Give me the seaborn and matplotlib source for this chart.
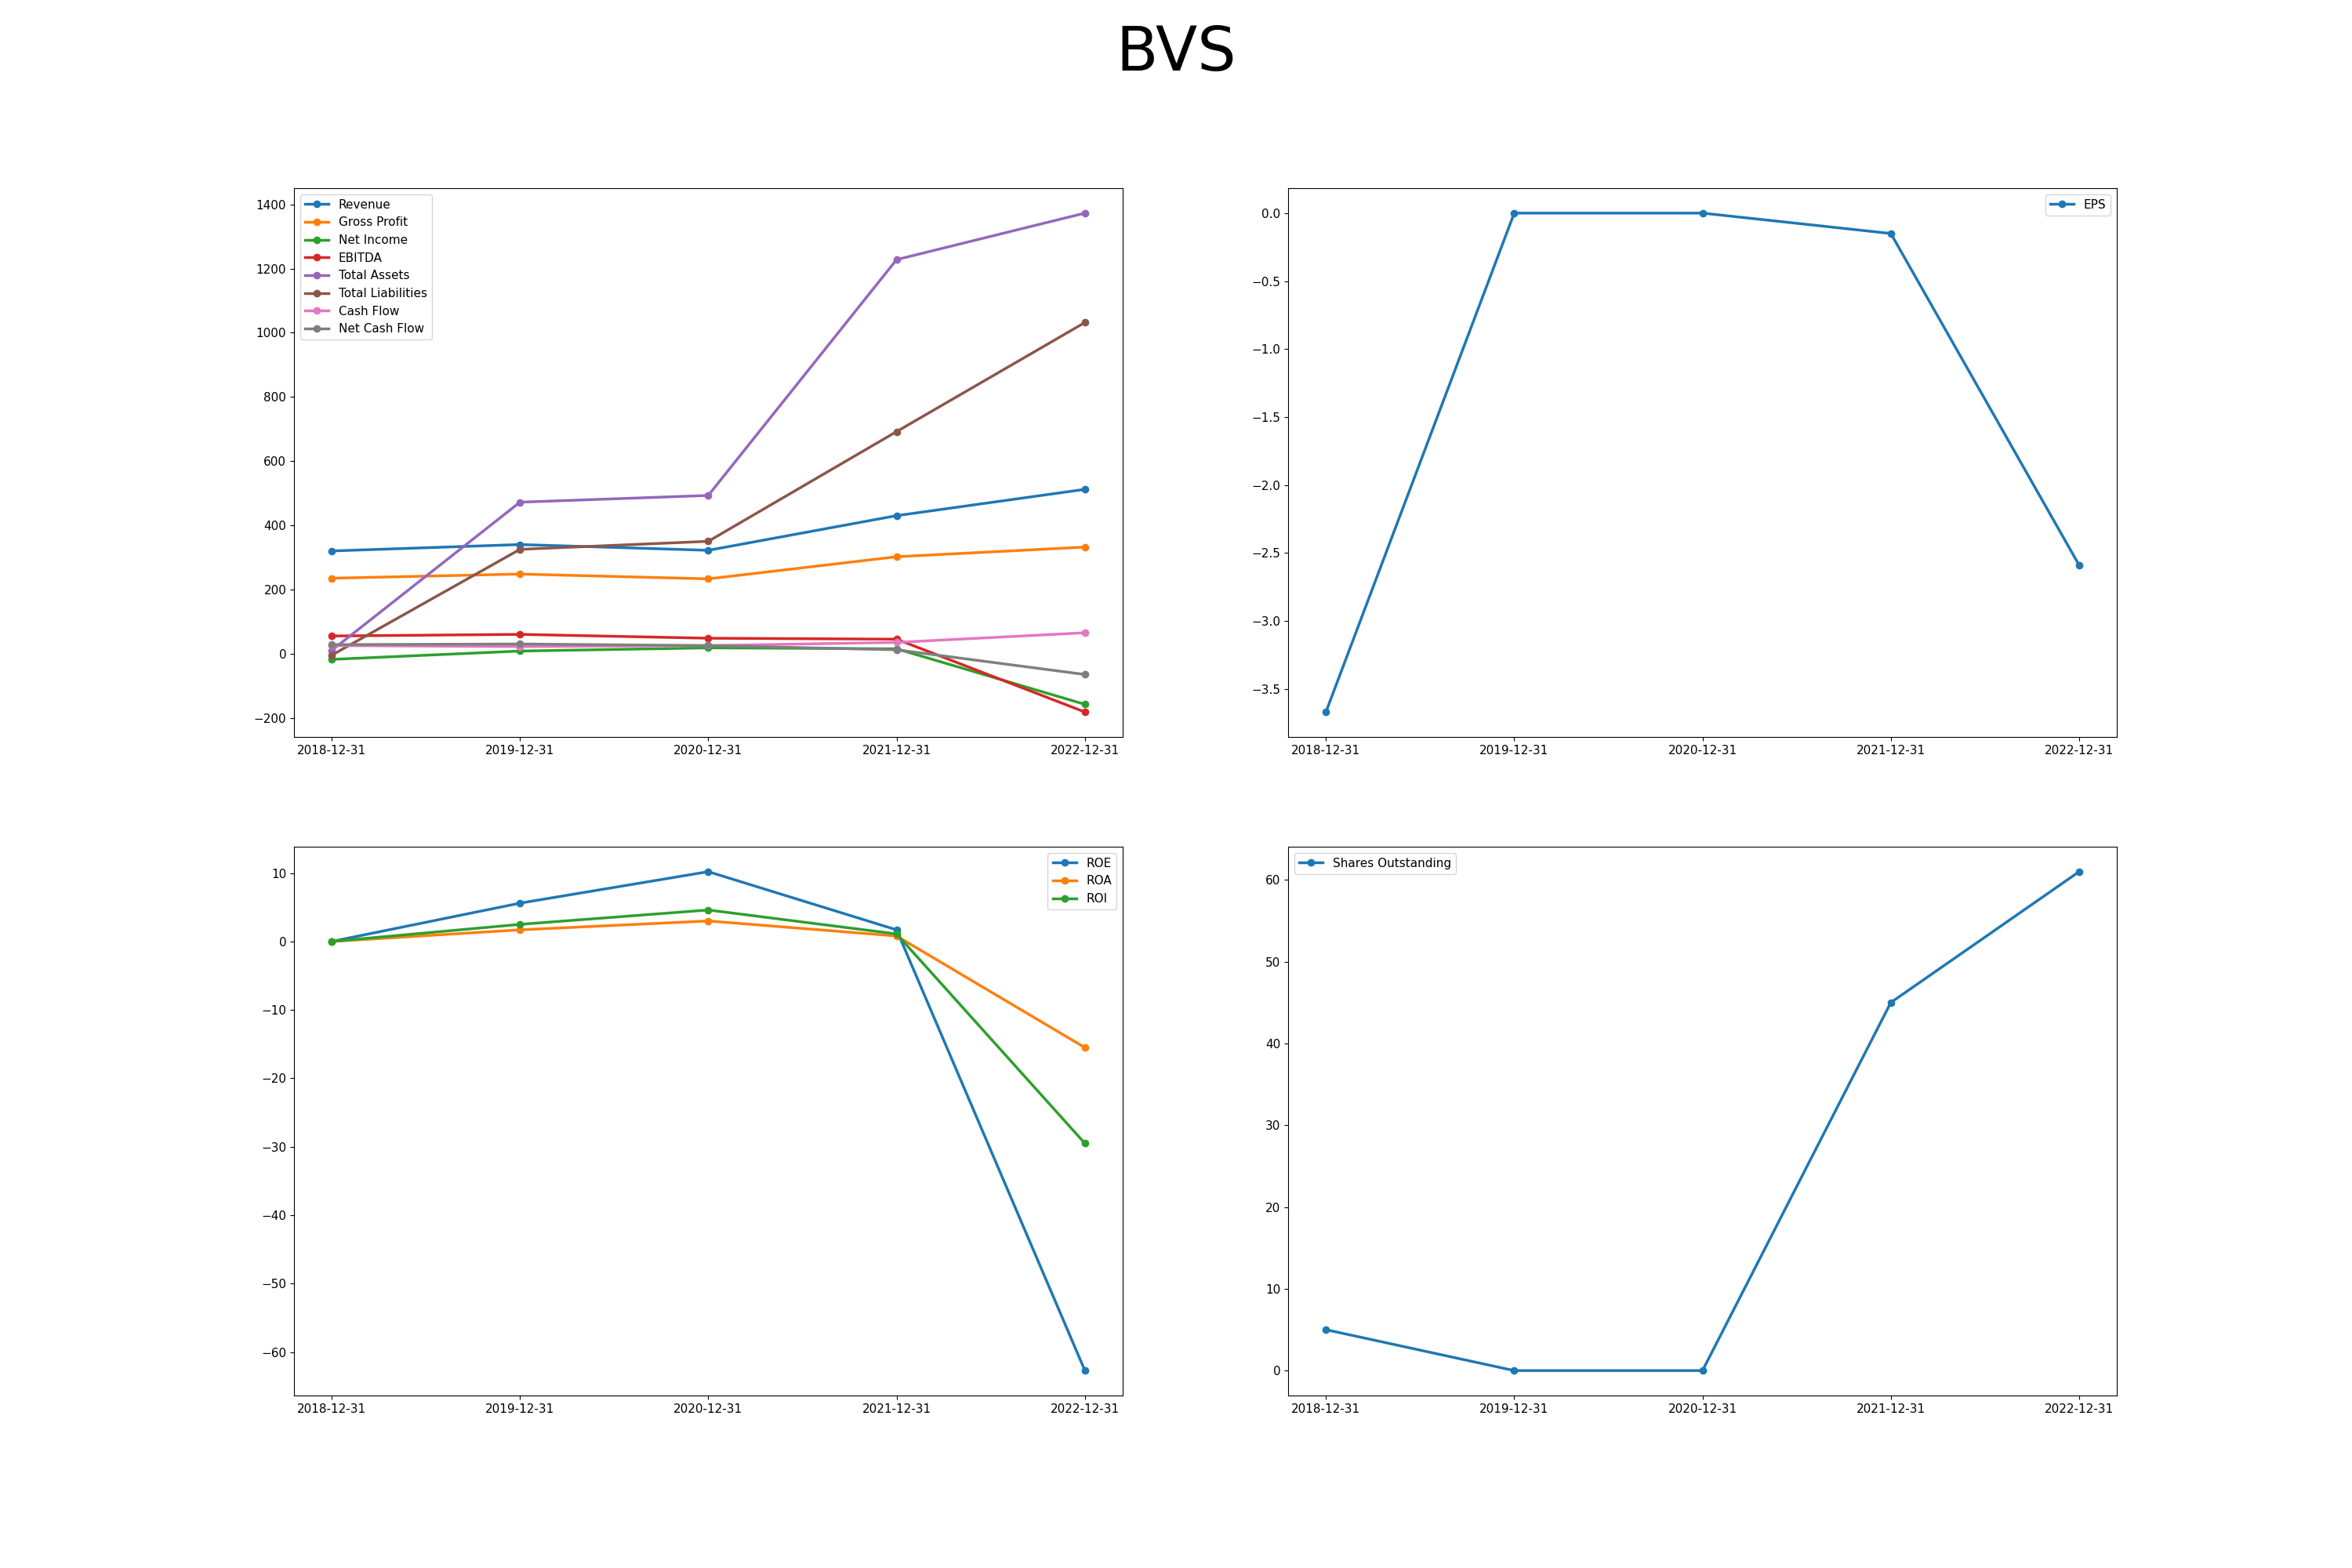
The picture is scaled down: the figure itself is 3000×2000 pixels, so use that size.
import pandas as pd
import numpy as np
import seaborn as sns
import matplotlib
matplotlib.use("Agg")
import matplotlib.pyplot as plt

# Data
dates = ['2018-12-31', '2019-12-31', '2020-12-31', '2021-12-31', '2022-12-31']
revenue = [320, 340, 322, 430, 512]
gross_profit = [235, 248, 233, 302, 332]
net_income = [-18, 8, 18, 15, -158]
ebitda = [55, 60, 48, 45, -182]
total_assets = [10, 472, 493, 1228, 1373]
total_liabilities = [-5, 325, 350, 692, 1032]
cash_flow = [25, 22, 25, 35, 65]
net_cash_flow = [28, 30, 25, 12, -65]
eps = [-3.67, 0.0, 0.0, -0.15, -2.59]
roe = [0.0, 5.6, 10.2, 1.7, -62.7]
roa = [0.0, 1.7, 3.0, 0.8, -15.5]
roi = [0.0, 2.5, 4.6, 1.1, -29.5]
shares = [5, 0, 0, 45, 61]

fig, axes = plt.subplots(2, 2, figsize=(30, 20), dpi=100)
fig.suptitle("BVS", fontsize=56, y=0.985)

def draw(ax, series, loc):
    for name, vals in series:
        sns.lineplot(x=dates, y=vals, ax=ax, marker='o', markeredgewidth=0,
                     markersize=7, linewidth=2.5, label=name, sort=False)
    ax.legend(loc=loc, fontsize=11)
    ax.tick_params(labelsize=11)
    ax.set_xlabel("")
    ax.set_ylabel("")

draw(axes[0, 0], [('Revenue', revenue), ('Gross Profit', gross_profit),
                  ('Net Income', net_income), ('EBITDA', ebitda),
                  ('Total Assets', total_assets), ('Total Liabilities', total_liabilities),
                  ('Cash Flow', cash_flow), ('Net Cash Flow', net_cash_flow)], 'upper left')
draw(axes[0, 1], [('EPS', eps)], 'upper right')
draw(axes[1, 0], [('ROE', roe), ('ROA', roa), ('ROI', roi)], 'upper right')
draw(axes[1, 1], [('Shares Outstanding', shares)], 'upper left')

plt.savefig("out.png")
